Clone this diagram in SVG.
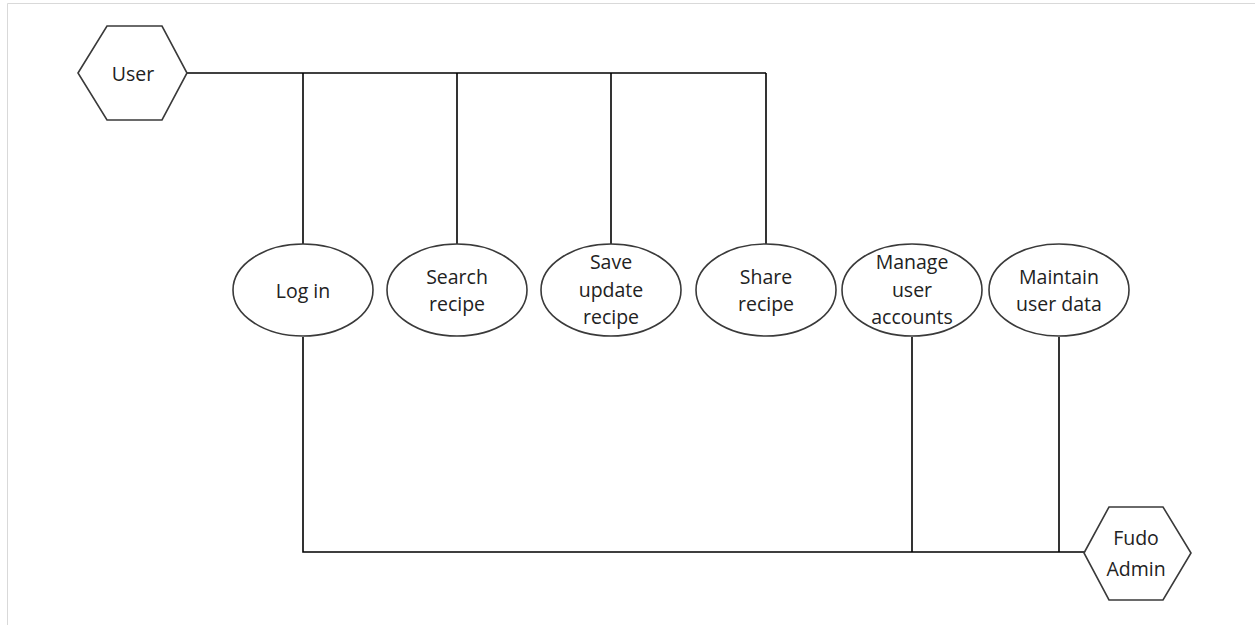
<svg xmlns="http://www.w3.org/2000/svg" width="1255" height="625" viewBox="0 0 1255 625">
<style>
.shape{fill:#ffffff;stroke:#3a3a3a;stroke-width:1.6}
.conn{fill:none;stroke:#000000;stroke-width:1.6}
.lbl{font-family:"Open Sans","Liberation Sans",sans-serif;font-size:19.5px;fill:#222222;text-anchor:middle}
</style>
<rect x="0" y="0" width="1255" height="625" fill="#ffffff"/>
<path d="M7.5,625 V3.5 H1255" fill="none" stroke="#d9d9d9" stroke-width="1"/>
<g id="connectors">
<path class="conn" d="M187,73 H766"/>
<path class="conn" d="M303,73 V244"/>
<path class="conn" d="M457,73 V244"/>
<path class="conn" d="M611,73 V244"/>
<path class="conn" d="M766,73 V244"/>
<path class="conn" d="M303,337 V552 H1084"/>
<path class="conn" d="M912,337 V552"/>
<path class="conn" d="M1059,337 V552"/>
</g>
<g id="user">
<polygon class="shape" points="78,73 107,26 162,26 187,73 162,120 107,120"/>
<text class="lbl" x="133" y="81">User</text>
</g>
<g id="fudo-admin">
<polygon class="shape" points="1084,553 1109,507 1163,507 1191,553 1163,600 1109,600"/>
<text class="lbl" x="1136" y="545">Fudo</text>
<text class="lbl" x="1136" y="576">Admin</text>
</g>
<g id="log-in">
<ellipse class="shape" cx="303" cy="290" rx="70" ry="46"/>
<text class="lbl" x="303" y="298">Log in</text>
</g>
<g id="search-recipe">
<ellipse class="shape" cx="457" cy="290" rx="70" ry="46"/>
<text class="lbl" x="457" y="284">Search</text>
<text class="lbl" x="457" y="311">recipe</text>
</g>
<g id="save-update-recipe">
<ellipse class="shape" cx="611" cy="290" rx="70" ry="46"/>
<text class="lbl" x="611" y="269">Save</text>
<text class="lbl" x="611" y="297">update</text>
<text class="lbl" x="611" y="324">recipe</text>
</g>
<g id="share-recipe">
<ellipse class="shape" cx="766" cy="290" rx="70" ry="46"/>
<text class="lbl" x="766" y="284">Share</text>
<text class="lbl" x="766" y="311">recipe</text>
</g>
<g id="manage-user-accounts">
<ellipse class="shape" cx="912" cy="290" rx="70" ry="46"/>
<text class="lbl" x="912" y="269">Manage</text>
<text class="lbl" x="912" y="297">user</text>
<text class="lbl" x="912" y="324">accounts</text>
</g>
<g id="maintain-user-data">
<ellipse class="shape" cx="1059" cy="290" rx="70" ry="46"/>
<text class="lbl" x="1059" y="284">Maintain</text>
<text class="lbl" x="1059" y="311">user data</text>
</g>
</svg>
